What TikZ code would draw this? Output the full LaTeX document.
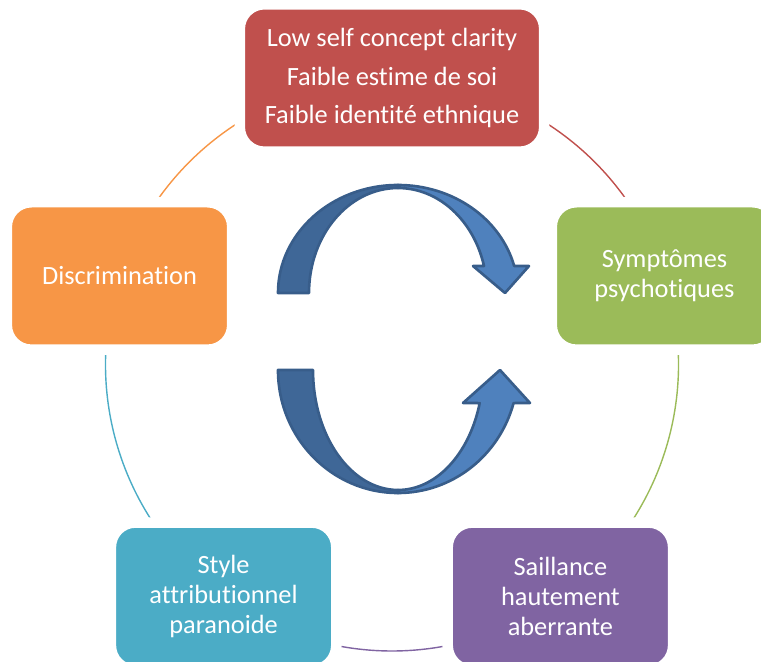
\documentclass[tikz,border=0pt]{standalone}
\usepackage{fontspec}
\setmainfont[Ligatures={NoCommon,NoRequired}]{Carlito}
\usetikzlibrary{backgrounds}
\definecolor{boxred}{HTML}{C0504D}
\definecolor{boxgreen}{HTML}{9BBB59}
\definecolor{boxpurple}{HTML}{8064A2}
\definecolor{boxcyan}{HTML}{4BACC6}
\definecolor{boxorange}{HTML}{F79646}
\definecolor{arrowblue}{HTML}{4F81BD}
\definecolor{arrowdark}{HTML}{3F6797}
\definecolor{arrowline}{HTML}{385D8A}
\tikzset{
  stage/.style={rounded corners=14pt, draw=white, line width=6pt, text=white, align=center,
    minimum width=4.51cm, minimum height=2.95cm, font=\fontsize{15}{17}\selectfont},
  ring/.style={line width=0.8pt},
  bandback/.style={fill=arrowdark, draw=arrowline, line width=1.5pt, line join=round},
  bandfront/.style={fill=arrowblue, draw=arrowline, line width=1.5pt, line join=round}
}
\begin{document}
\begin{tikzpicture}[x=0.02cm, y=0.02cm]
			\useasboundingbox (0,-662) rectangle (761,0);
			\clip (0,-662) rectangle (761,0);
			\coordinate (ctr) at (392, -364.5);
			\coordinate (ca) at (398, -293);
			\coordinate (cb) at (398, -370);
			
			\node[stage, fill=boxred, minimum width=6.09cm, font=\fontsize{15}{22}\selectfont] (concept) at ([shift={(90:286.5)}]ctr) {Low self concept clarity\\Faible estime de soi\\Faible identité ethnique};
			\node[stage, fill=boxgreen] (symptomes) at ([shift={(18:286.5)}]ctr) {Symptômes\\psychotiques};
			\node[stage, fill=boxpurple] (saillance) at ([shift={(-54:286.5)}]ctr) {Saillance\\hautement\\aberrante};
			\node[stage, fill=boxcyan] (style) at ([shift={(-126:286.5)}]ctr) {Style\\attributionnel\\paranoide};
			\node[stage, fill=boxorange] (discrimination) at ([shift={(162:286.5)}]ctr) {Discrimination};
			
			\begin{scope}[on background layer]
				\draw[ring, boxred] (concept.center) arc[start angle=90, end angle=18, radius=286.5];
				\draw[ring, boxgreen] (symptomes.center) arc[start angle=18, end angle=-54, radius=286.5];
				\draw[ring, boxpurple] (saillance.center) arc[start angle=-54, end angle=-126, radius=286.5];
				\draw[ring, boxcyan] (style.center) arc[start angle=-126, end angle=-198, radius=286.5];
				\draw[ring, boxorange] (discrimination.center) arc[start angle=162, end angle=90, radius=286.5];
			\end{scope}
			
			\draw[bandback] ([shift={(180:120 and 108)}]ca) arc[start angle=180, end angle=90, x radius=120, y radius=108]
				-- ([shift={(90:89 and 105)}]ca) arc[start angle=90, end angle=180, x radius=89, y radius=105] -- cycle;
			\draw[bandfront] ([shift={(90:120 and 108)}]ca) arc[start angle=90, end angle=14.5, x radius=120, y radius=108]
				-- (529,-266) -- (505,-293) -- (473,-266)
				-- ([shift={(14.9:89 and 105)}]ca) arc[start angle=14.9, end angle=90, x radius=89, y radius=105] -- cycle;
			
			\draw[bandback] ([shift={(180:120 and 123)}]cb) arc[start angle=180, end angle=270, x radius=120, y radius=123]
				-- ([shift={(270:85 and 120)}]cb) arc[start angle=270, end angle=180, x radius=85, y radius=120] -- cycle;
			\draw[bandfront] ([shift={(-90:120 and 123)}]cb) arc[start angle=-90, end angle=-15.6, x radius=120, y radius=123]
				-- (530,-403) -- (500,-370) -- (463,-403)
				-- ([shift={(-16:85 and 120)}]cb) arc[start angle=-16, end angle=-90, x radius=85, y radius=120] -- cycle;
			
		\end{tikzpicture}
\end{document}
